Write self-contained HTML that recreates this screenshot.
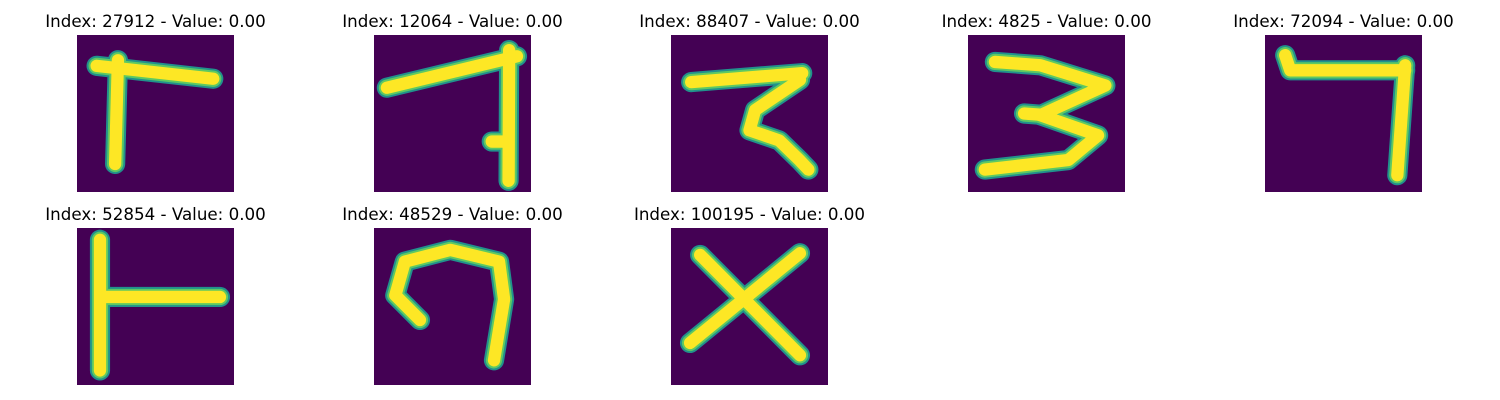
<!DOCTYPE html>
<html><head><meta charset="utf-8"><style>
body{margin:0;background:#fff;width:1500px;height:400px;overflow:hidden;font-family:"DejaVu Sans",sans-serif}
svg{position:absolute;left:0;top:0}
</style></head><body>
<svg width="1500" height="400" id="grid"></svg>
<script>
const titles=["Index: 27912 - Value: 0.00","Index: 12064 - Value: 0.00","Index: 88407 - Value: 0.00","Index: 4825 - Value: 0.00","Index: 72094 - Value: 0.00","Index: 52854 - Value: 0.00","Index: 48529 - Value: 0.00","Index: 100195 - Value: 0.00"];
const strokes=[
 [[[3.5,5.5],[24.3,7.8]],[[7.3,4.5],[6.8,23]]],
 [[[2.3,9.4],[25.5,3.8]],[[24.1,2.7],[24,26]],[[21,19],[23,19]]],
 [[[3.6,8.4],[23.4,6.8]],[[23,8],[15,13.4],[14,17],[19.3,18.8],[23,22.4],[24.5,24]]],
 [[[4.8,4.8],[12.9,5.4],[24.5,9],[12.9,14.3],[23.2,17.9],[17.9,22.3],[3,24]],[[10,14],[14,14.3]]],
 [[[3.6,3.6],[4.5,6.3],[25,6.3]],[[25,5.4],[23.6,25]]],
 [[[4.1,2.1],[4.1,25.4]],[[5,12.3],[25.5,12.3]]],
 [[[8.2,16.4],[3.8,12],[5.5,6],[13.6,3.9],[22.3,6],[23.2,12.7],[21.4,23.6]]],
 [[[3.4,20.5],[23,4.5]],[[5.2,4.8],[23,22.7]]]
];
const lefts=[77,374,671,968,1265];
const ns="http://www.w3.org/2000/svg";
const svg=document.getElementById('grid');
const S=157/28;
titles.forEach((t,i)=>{
 const x0=lefts[i%5], y0=i<5?35:228;
 const g=document.createElementNS(ns,'g');
 
 
 const tx=document.createElementNS(ns,'text');
 tx.setAttribute('x',x0+78.5);tx.setAttribute('y',y0-8);
 tx.setAttribute('text-anchor','middle');tx.setAttribute('font-size','16.7');
 tx.textContent=t;
 
 
 g.appendChild(tx);
 const cp=document.createElementNS(ns,'clipPath');
 cp.setAttribute('id','c'+i);
 const cr=document.createElementNS(ns,'rect');
 cr.setAttribute('x',x0);cr.setAttribute('y',y0);cr.setAttribute('width',157);cr.setAttribute('height',157);
 cp.appendChild(cr);g.appendChild(cp);
 const r=document.createElementNS(ns,'rect');
 r.setAttribute('x',x0);r.setAttribute('y',y0);r.setAttribute('width',157);r.setAttribute('height',157);r.setAttribute('fill','#440154');
 
 
 g.appendChild(r);
 const ig=document.createElementNS(ns,'g');
 ig.setAttribute('clip-path','url(#c'+i+')');
 [['#21918c',3.6],['#5ec962',2.9],['#fde725',2.2]].forEach(([c,w])=>{
  strokes[i].forEach(pl=>{
   const p=document.createElementNS(ns,'polyline');
   p.setAttribute('points',pl.map(q=>(x0+q[0]*S)+','+(y0+q[1]*S)).join(' '));
   p.setAttribute('fill','none');p.setAttribute('stroke',c);p.setAttribute('stroke-width',w*S);
   p.setAttribute('stroke-linejoin','round');p.setAttribute('stroke-linecap','round');
   
   
   ig.appendChild(p);
  });
 });
 g.appendChild(ig);
 svg.appendChild(g);
});
</script>
</body></html>
